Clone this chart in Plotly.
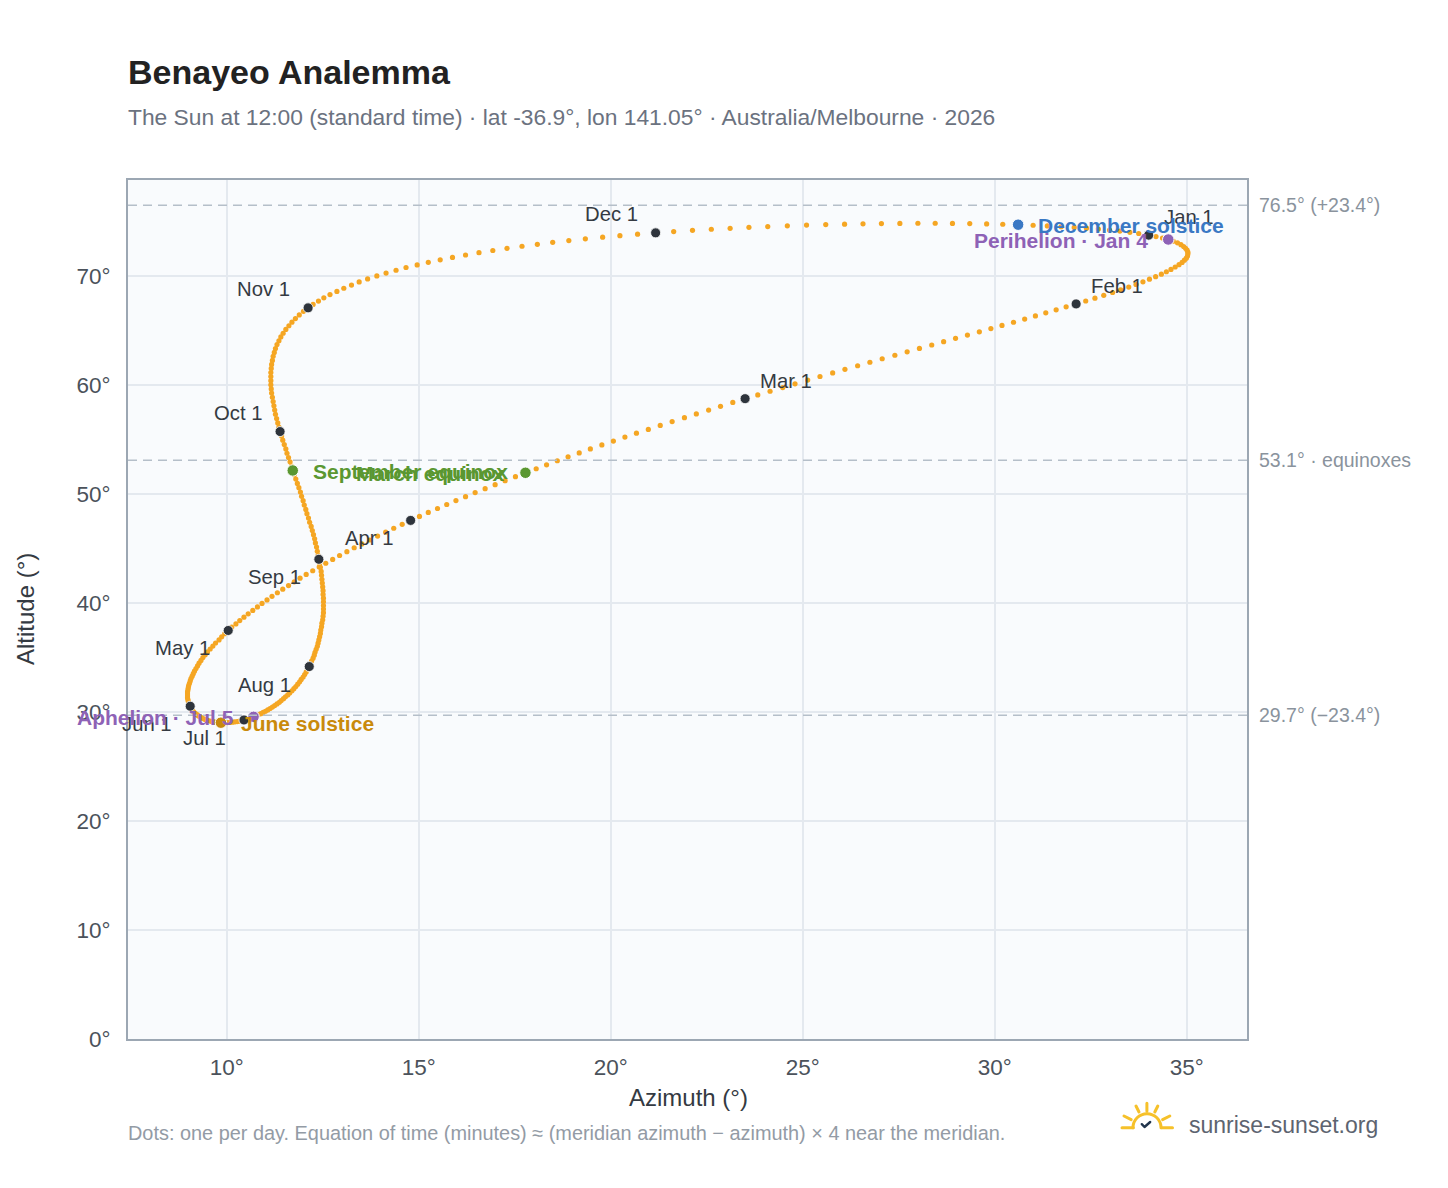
import base64
import plotly.graph_objects as go

# Sun position at 12:00 standard time, one value per day of 2026
AZIMUTH = [
    # Jan
    34.01, 34.20, 34.37, 34.52, 34.65, 34.76, 34.85, 34.92, 34.97, 35.01,
    35.03, 35.03, 35.02, 34.99, 34.94, 34.88, 34.80, 34.70, 34.59, 34.47,
    34.34, 34.19, 34.03, 33.86, 33.68, 33.49, 33.28, 33.07, 32.84, 32.61, 32.37,
    # Feb
    32.12, 31.86, 31.60, 31.33, 31.06, 30.78, 30.49, 30.19, 29.90, 29.60,
    29.29, 28.98, 28.67, 28.36, 28.04, 27.72, 27.40, 27.07, 26.75, 26.43,
    26.10, 25.78, 25.45, 25.13, 24.80, 24.48, 24.15, 23.83,
    # Mar
    23.50, 23.18, 22.86, 22.55, 22.23, 21.92, 21.60, 21.29, 20.98, 20.67,
    20.37, 20.07, 19.77, 19.47, 19.18, 18.89, 18.61, 18.33, 18.06, 17.78,
    17.52, 17.25, 16.99, 16.73, 16.47, 16.22, 15.97, 15.73, 15.49, 15.25, 15.02,
    # Apr
    14.79, 14.57, 14.35, 14.14, 13.93, 13.72, 13.52, 13.32, 13.13, 12.94,
    12.76, 12.58, 12.41, 12.24, 12.07, 11.91, 11.76, 11.61, 11.46, 11.32,
    11.18, 11.05, 10.92, 10.80, 10.68, 10.56, 10.45, 10.34, 10.24, 10.13,
    # May
    10.04, 9.95, 9.87, 9.80, 9.71, 9.64, 9.57, 9.50, 9.44, 9.38,
    9.33, 9.28, 9.24, 9.20, 9.16, 9.13, 9.10, 9.07, 9.05, 9.03,
    9.01, 9.00, 8.99, 8.98, 8.98, 8.98, 8.98, 8.99, 9.00, 9.01, 9.03,
    # Jun
    9.05, 9.07, 9.09, 9.11, 9.14, 9.17, 9.21, 9.24, 9.28, 9.32,
    9.36, 9.40, 9.44, 9.49, 9.54, 9.59, 9.64, 9.69, 9.74, 9.80,
    9.85, 9.91, 9.96, 10.02, 10.08, 10.14, 10.20, 10.27, 10.33, 10.39,
    # Jul
    10.45, 10.51, 10.58, 10.64, 10.70, 10.76, 10.82, 10.89, 10.95, 11.01,
    11.07, 11.13, 11.19, 11.25, 11.31, 11.37, 11.42, 11.48, 11.53, 11.59,
    11.64, 11.70, 11.75, 11.80, 11.85, 11.90, 11.94, 11.99, 12.03, 12.07, 12.11,
    # Aug
    12.15, 12.18, 12.21, 12.25, 12.28, 12.30, 12.33, 12.36, 12.38, 12.40,
    12.42, 12.44, 12.45, 12.47, 12.48, 12.50, 12.51, 12.52, 12.52, 12.52,
    12.52, 12.52, 12.51, 12.51, 12.50, 12.49, 12.48, 12.47, 12.46, 12.44, 12.42,
    # Sep
    12.40, 12.38, 12.36, 12.34, 12.31, 12.29, 12.26, 12.23, 12.20, 12.16,
    12.13, 12.09, 12.06, 12.02, 11.99, 11.95, 11.92, 11.88, 11.84, 11.80,
    11.76, 11.72, 11.69, 11.65, 11.61, 11.57, 11.54, 11.50, 11.46, 11.43,
    # Oct
    11.39, 11.36, 11.33, 11.30, 11.27, 11.25, 11.23, 11.21, 11.19, 11.17,
    11.16, 11.15, 11.15, 11.15, 11.15, 11.16, 11.17, 11.19, 11.21, 11.24,
    11.27, 11.31, 11.36, 11.41, 11.47, 11.54, 11.62, 11.70, 11.79, 11.89, 12.00,
    # Nov
    12.12, 12.25, 12.39, 12.53, 12.69, 12.87, 13.05, 13.25, 13.45, 13.67,
    13.91, 14.15, 14.41, 14.67, 14.96, 15.25, 15.56, 15.88, 16.22, 16.57,
    16.93, 17.30, 17.69, 18.09, 18.49, 18.91, 19.34, 19.79, 20.24, 20.70,
    # Dec
    21.17, 21.64, 22.13, 22.62, 23.11, 23.60, 24.09, 24.60, 25.10, 25.60,
    26.09, 26.57, 27.05, 27.53, 28.00, 28.45, 28.90, 29.35, 29.79, 30.21,
    30.61, 31.00, 31.37, 31.73, 32.07, 32.39, 32.70, 32.99, 33.26, 33.52, 33.75,
]

ALTITUDE = [
    # Jan
    73.75, 73.62, 73.49, 73.35, 73.20, 73.05, 72.88, 72.71, 72.54, 72.37,
    72.19, 72.01, 71.83, 71.64, 71.45, 71.25, 71.04, 70.83, 70.61, 70.39,
    70.17, 69.94, 69.71, 69.47, 69.23, 68.99, 68.74, 68.49, 68.23, 67.97, 67.71,
    # Feb
    67.44, 67.17, 66.90, 66.62, 66.34, 66.05, 65.76, 65.47, 65.18, 64.88,
    64.58, 64.28, 63.98, 63.67, 63.36, 63.05, 62.73, 62.41, 62.09, 61.77,
    61.44, 61.11, 60.78, 60.45, 60.11, 59.77, 59.43, 59.09,
    # Mar
    58.75, 58.40, 58.05, 57.70, 57.35, 57.00, 56.65, 56.29, 55.93, 55.58,
    55.22, 54.86, 54.50, 54.14, 53.77, 53.41, 53.05, 52.68, 52.32, 51.95,
    51.59, 51.22, 50.86, 50.49, 50.13, 49.76, 49.40, 49.04, 48.67, 48.31, 47.94,
    # Apr
    47.58, 47.22, 46.86, 46.50, 46.14, 45.78, 45.42, 45.07, 44.71, 44.36,
    44.00, 43.65, 43.31, 42.96, 42.62, 42.28, 41.94, 41.60, 41.27, 40.94,
    40.61, 40.28, 39.96, 39.64, 39.32, 39.01, 38.70, 38.39, 38.08, 37.78,
    # May
    37.48, 37.19, 36.90, 36.61, 36.33, 36.05, 35.78, 35.51, 35.25, 34.99,
    34.73, 34.48, 34.23, 33.99, 33.75, 33.52, 33.29, 33.07, 32.85, 32.64,
    32.43, 32.23, 32.03, 31.84, 31.66, 31.48, 31.31, 31.14, 30.98, 30.83, 30.68,
    # Jun
    30.53, 30.40, 30.26, 30.14, 30.02, 29.91, 29.80, 29.71, 29.62, 29.53,
    29.45, 29.38, 29.31, 29.25, 29.20, 29.15, 29.11, 29.08, 29.05, 29.03,
    29.02, 29.02, 29.02, 29.03, 29.04, 29.06, 29.09, 29.12, 29.16, 29.21,
    # Jul
    29.27, 29.33, 29.40, 29.48, 29.56, 29.65, 29.75, 29.85, 29.96, 30.07,
    30.19, 30.32, 30.45, 30.59, 30.74, 30.89, 31.05, 31.22, 31.39, 31.57,
    31.75, 31.94, 32.14, 32.34, 32.55, 32.77, 32.99, 33.21, 33.44, 33.68, 33.92,
    # Aug
    34.17, 34.42, 34.68, 34.94, 35.21, 35.48, 35.75, 36.03, 36.32, 36.61,
    36.91, 37.21, 37.52, 37.83, 38.15, 38.46, 38.79, 39.11, 39.44, 39.77,
    40.11, 40.44, 40.79, 41.13, 41.48, 41.83, 42.18, 42.54, 42.90, 43.27, 43.64,
    # Sep
    44.01, 44.38, 44.75, 45.13, 45.51, 45.89, 46.27, 46.65, 47.03, 47.41,
    47.80, 48.20, 48.59, 48.99, 49.39, 49.79, 50.18, 50.58, 50.97, 51.37,
    51.76, 52.16, 52.55, 52.95, 53.35, 53.74, 54.14, 54.54, 54.94, 55.33,
    # Oct
    55.73, 56.13, 56.52, 56.92, 57.31, 57.70, 58.09, 58.48, 58.87, 59.26,
    59.64, 60.02, 60.40, 60.78, 61.15, 61.52, 61.89, 62.26, 62.63, 62.99,
    63.35, 63.71, 64.06, 64.41, 64.75, 65.10, 65.44, 65.77, 66.10, 66.43, 66.76,
    # Nov
    67.08, 67.39, 67.70, 68.00, 68.30, 68.59, 68.88, 69.17, 69.46, 69.73,
    70.01, 70.27, 70.53, 70.78, 71.02, 71.26, 71.49, 71.71, 71.93, 72.14,
    72.34, 72.54, 72.73, 72.91, 73.09, 73.25, 73.41, 73.56, 73.70, 73.84,
    # Dec
    73.96, 74.08, 74.19, 74.29, 74.38, 74.47, 74.54, 74.61, 74.67, 74.72,
    74.76, 74.79, 74.81, 74.83, 74.84, 74.84, 74.83, 74.81, 74.78, 74.75,
    74.71, 74.66, 74.60, 74.53, 74.46, 74.39, 74.31, 74.22, 74.12, 74.01, 73.90,
]

MONTH_LABELS = ["Jan 1", "Feb 1", "Mar 1", "Apr 1", "May 1", "Jun 1",
                "Jul 1", "Aug 1", "Sep 1", "Oct 1", "Nov 1", "Dec 1"]
MONTH_START_DAY = [1, 32, 60, 91, 121, 152, 182, 213, 244, 274, 305, 335]

EVENT_NAMES = ["December solstice", "Perihelion · Jan 4", "June solstice",
               "Aphelion · Jul 5", "September equinox", "March equinox"]
EVENT_DAYS = [355, 4, 172, 186, 265, 79]
EVENT_COLORS = ["#3a78c4", "#8e62b6", "#c98a0c", "#8e62b6", "#5a9731", "#5a9731"]
EVENT_SIDE = ["right", "left", "right", "left", "right", "left"]

REF_LEVELS = [76.5, 53.1, 29.7]
REF_LABELS = ["76.5° (+23.4°)", "53.1° · equinoxes", "29.7° (−23.4°)"]

X_TICKS = [10, 15, 20, 25, 30, 35]
Y_TICKS = [0, 10, 20, 30, 40, 50, 60, 70]

FONT = "Liberation Sans, Arial, Helvetica, sans-serif"
OFF = 8                       # page body margin
W, H = 1432, 1172
ML, MR, MT, MB = 120, 193, 172, 141
PW, PH = W - ML - MR, H - MT - MB


def paperX(px):
    # screen pixel -> paper fraction
    return (px - OFF - ML) / PW


def paperY(py):
    return (OFF + MT + PH - py) / PH


def logoSource():
    svg = ('<svg xmlns="http://www.w3.org/2000/svg" width="54" height="36" viewBox="0 0 54 36">'
           '<g fill="none" stroke="#f6c12a" stroke-width="3" stroke-linecap="round">'
           '<path d="M2 29.7 H13.3 M41.7 29.7 H52.5"/>'
           '<path d="M13 29.7 A14 14 0 0 1 41 29.7"/>'
           '<path d="M26.9 5.3 V13.2 M16 8 L19 14 M37.8 8 L34.8 14 M4 18 L11.2 21.6 M49.8 18 L42.6 21.6"/>'
           '</g>'
           '<path d="M21.8 26.2 L24.5 29 L30.2 24" fill="none" stroke="#22364d" stroke-width="2.4" '
           'stroke-linecap="round" stroke-linejoin="round"/>'
           '</svg>')
    return "data:image/svg+xml;base64," + base64.b64encode(svg.encode("utf-8")).decode("ascii")


fig = go.Figure()

# daily dots
fig.add_trace(go.Scatter(x=AZIMUTH, y=ALTITUDE, mode="markers",
                         marker=dict(size=5.2, color="#f5a623"),
                         hoverinfo="skip", showlegend=False))

# first of each month
monthX = [AZIMUTH[d - 1] for d in MONTH_START_DAY]
monthY = [ALTITUDE[d - 1] for d in MONTH_START_DAY]
fig.add_trace(go.Scatter(x=monthX, y=monthY, mode="markers",
                         marker=dict(size=10, color="#2e343c", line=dict(width=0.8, color="#ffffff")),
                         hoverinfo="skip", showlegend=False))

# solstices, equinoxes, perihelion / aphelion
eventX = [AZIMUTH[d - 1] for d in EVENT_DAYS]
eventY = [ALTITUDE[d - 1] for d in EVENT_DAYS]
fig.add_trace(go.Scatter(x=eventX, y=eventY, mode="markers",
                         marker=dict(size=11.5, color=EVENT_COLORS, line=dict(width=1, color="#ffffff")),
                         hoverinfo="skip", showlegend=False))

annotations = []

for i, label in enumerate(MONTH_LABELS):
    if i < 3:
        xanchor, xshift, yshift = "left", 13, 18
    elif i < 9:
        xanchor, xshift, yshift = "right", -16, -18
    else:
        xanchor, xshift, yshift = "right", -16, 19
    annotations.append(dict(x=monthX[i], y=monthY[i], xref="x", yref="y", text=label,
                            showarrow=False, xanchor=xanchor, yanchor="middle",
                            xshift=xshift, yshift=yshift,
                            font=dict(family=FONT, size=20.3, color="#343a42")))

for i, name in enumerate(EVENT_NAMES):
    right = EVENT_SIDE[i] == "right"
    annotations.append(dict(x=eventX[i], y=eventY[i], xref="x", yref="y",
                            text="<b>" + name + "</b>", showarrow=False,
                            xanchor="left" if right else "right", yanchor="middle",
                            xshift=18 if right else -18, yshift=-1,
                            font=dict(family=FONT, size=21, color=EVENT_COLORS[i])))

for level, label in zip(REF_LEVELS, REF_LABELS):
    annotations.append(dict(x=1, y=level, xref="paper", yref="y", text=label,
                            showarrow=False, xanchor="left", yanchor="middle", xshift=10,
                            font=dict(family=FONT, size=19.5, color="#8a939d")))

# titles and footer
annotations += [
    dict(x=paperX(126), y=paperY(72), xref="paper", yref="paper", text="<b>Benayeo Analemma</b>",
         showarrow=False, xanchor="left", yanchor="middle",
         font=dict(family=FONT, size=34, color="#222222")),
    dict(x=paperX(126), y=paperY(117), xref="paper", yref="paper",
         text="The Sun at 12:00 (standard time) · lat -36.9°, lon 141.05° · Australia/Melbourne · 2026",
         showarrow=False, xanchor="left", yanchor="middle",
         font=dict(family=FONT, size=22.8, color="#6b7280")),
    dict(x=paperX(688), y=paperY(1097), xref="paper", yref="paper", text="Azimuth (°)",
         showarrow=False, xanchor="center", yanchor="middle",
         font=dict(family=FONT, size=24, color="#343a42")),
    dict(x=paperX(25), y=paperY(609), xref="paper", yref="paper", text="Altitude (°)",
         showarrow=False, xanchor="center", yanchor="middle", textangle=-90,
         font=dict(family=FONT, size=24, color="#343a42")),
    dict(x=paperX(126), y=paperY(1133), xref="paper", yref="paper",
         text="Dots: one per day. Equation of time (minutes) ≈ (meridian azimuth − azimuth) × 4 near the meridian.",
         showarrow=False, xanchor="left", yanchor="middle",
         font=dict(family=FONT, size=19.9, color="#939ba5")),
    dict(x=paperX(1187), y=paperY(1125), xref="paper", yref="paper", text="sunrise-sunset.org",
         showarrow=False, xanchor="left", yanchor="middle",
         font=dict(family=FONT, size=23, color="#5d6470")),
]

shapes = []
for level in REF_LEVELS:
    shapes.append(dict(type="line", xref="paper", yref="y", x0=0, x1=1, y0=level, y1=level,
                       line=dict(color="#b5bfc9", width=1.6, dash="9px,6px"), layer="above"))

axisStyle = dict(showgrid=True, gridcolor="#e4e9ef", gridwidth=1.5, zeroline=False,
                 showline=True, mirror=True, linecolor="#9ca7b3", linewidth=2,
                 ticks="", tickfont=dict(family=FONT, size=22.5, color="#4b525b"))

fig.update_layout(
    width=W, height=H,
    margin=dict(l=ML, r=MR, t=MT, b=MB),
    paper_bgcolor="#ffffff", plot_bgcolor="#f9fbfd",
    showlegend=False,
    font=dict(family=FONT, size=19.5, color="#4b525b"),
    xaxis=dict(range=[7.43, 36.57], tickmode="array", tickvals=X_TICKS,
               ticktext=[str(v) + "°" for v in X_TICKS], ticklabelstandoff=7, **axisStyle),
    yaxis=dict(range=[0, 78.81], tickmode="array", tickvals=Y_TICKS,
               ticktext=[str(v) + "°" for v in Y_TICKS], ticklabelstandoff=11, **axisStyle),
    annotations=annotations,
    shapes=shapes,
    images=[dict(source=logoSource(), xref="paper", yref="paper",
                 x=paperX(1120), y=paperY(1098), sizex=54 / PW, sizey=36 / PH,
                 xanchor="left", yanchor="top", sizing="stretch", layer="above")],
)

fig.write_html("out.html")
